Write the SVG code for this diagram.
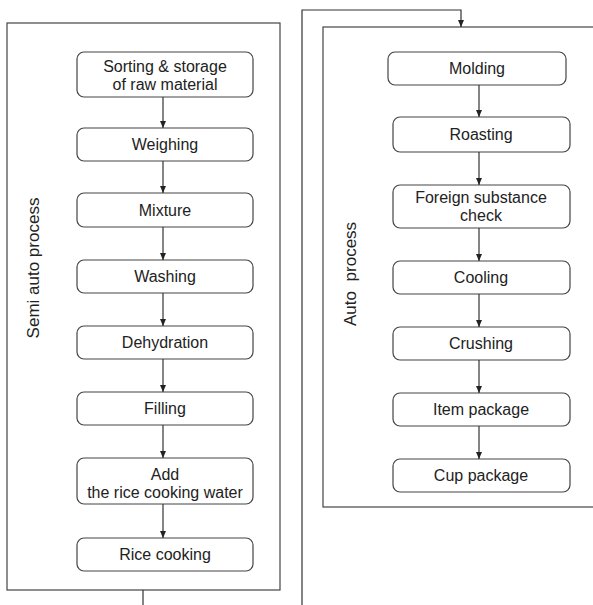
<svg xmlns="http://www.w3.org/2000/svg" width="593" height="605" viewBox="0 0 593 605">
<style>
.frame{fill:none;stroke:#444;stroke-width:1.2}
.box{fill:#fff;stroke:#444;stroke-width:1.2}
.t{font-family:"Liberation Sans",Arial,sans-serif;font-size:16px;fill:#222;text-anchor:middle}
.lbl{font-family:"Liberation Sans",Arial,sans-serif;font-size:17px;fill:#222;text-anchor:middle}
.c{fill:none;stroke:#333;stroke-width:1.2}
</style>
<defs>
<marker id="ah" markerWidth="8" markerHeight="8" refX="7" refY="4" orient="auto" markerUnits="userSpaceOnUse">
<path d="M0,1 L7,4 L0,7 Z" fill="#222"/>
</marker>
</defs>
<rect width="593" height="605" fill="#fff"/>
<g id="semi-auto-panel">
<rect class="frame" x="7" y="23" width="273" height="567"/>
<text class="lbl" transform="translate(39,268) rotate(-90)">Semi auto process</text>
</g>
<g id="auto-panel">
<rect class="frame" x="323" y="27" width="290" height="480"/>
<text class="lbl" style="word-spacing:5px" transform="translate(356,274) rotate(-90)">Auto process</text>
</g>
<g id="n1"><rect class="box" x="77" y="52" width="176" height="45" rx="7"/><text class="t" x="165" y="72">Sorting &amp; storage</text><text class="t" x="165" y="90">of raw material</text></g>
<g id="n2"><rect class="box" x="77" y="128" width="176" height="33" rx="7"/><text class="t" x="165" y="150">Weighing</text></g>
<g id="n3"><rect class="box" x="77" y="193" width="176" height="34" rx="7"/><text class="t" x="165" y="215.5">Mixture</text></g>
<g id="n4"><rect class="box" x="77" y="260" width="176" height="33" rx="7"/><text class="t" x="165" y="282">Washing</text></g>
<g id="n5"><rect class="box" x="77" y="326" width="176" height="33" rx="7"/><text class="t" x="165" y="348">Dehydration</text></g>
<g id="n6"><rect class="box" x="77" y="392" width="176" height="33" rx="7"/><text class="t" x="165" y="414">Filling</text></g>
<g id="n7"><rect class="box" x="77" y="458" width="176" height="46" rx="7"/><text class="t" x="165" y="480">Add</text><text class="t" x="165" y="498">the rice cooking water</text></g>
<g id="n8"><rect class="box" x="77" y="538" width="176" height="33" rx="7"/><text class="t" x="165" y="560">Rice cooking</text></g>
<g id="m1"><rect class="box" x="388" y="52" width="178" height="33" rx="7"/><text class="t" x="477" y="74">Molding</text></g>
<g id="m2"><rect class="box" x="393" y="117" width="177" height="35" rx="7"/><text class="t" x="481" y="140">Roasting</text></g>
<g id="m3"><rect class="box" x="393" y="185" width="177" height="43" rx="7"/><text class="t" x="481" y="203">Foreign substance</text><text class="t" x="481" y="221">check</text></g>
<g id="m4"><rect class="box" x="393" y="261" width="177" height="33" rx="7"/><text class="t" x="481" y="283">Cooling</text></g>
<g id="m5"><rect class="box" x="393" y="327" width="177" height="33" rx="7"/><text class="t" x="481" y="349">Crushing</text></g>
<g id="m6"><rect class="box" x="393" y="393" width="177" height="33" rx="7"/><text class="t" x="481" y="415">Item package</text></g>
<g id="m7"><rect class="box" x="393" y="459" width="177" height="33" rx="7"/><text class="t" x="481" y="481">Cup package</text></g>
<g id="connectors">
<line class="c" x1="163" y1="97" x2="163" y2="128" marker-end="url(#ah)"/>
<line class="c" x1="163" y1="161" x2="163" y2="193" marker-end="url(#ah)"/>
<line class="c" x1="163" y1="227" x2="163" y2="260" marker-end="url(#ah)"/>
<line class="c" x1="163" y1="293" x2="163" y2="326" marker-end="url(#ah)"/>
<line class="c" x1="163" y1="359" x2="163" y2="392" marker-end="url(#ah)"/>
<line class="c" x1="163" y1="425" x2="163" y2="458" marker-end="url(#ah)"/>
<line class="c" x1="163" y1="504" x2="163" y2="538" marker-end="url(#ah)"/>
<line class="c" x1="143" y1="590" x2="143" y2="606"/>
<polyline class="c" points="302,606 302,10 461,10 461,27" marker-end="url(#ah)"/>
<line class="c" x1="479" y1="85" x2="479" y2="117" marker-end="url(#ah)"/>
<line class="c" x1="479" y1="152" x2="479" y2="185" marker-end="url(#ah)"/>
<line class="c" x1="479" y1="228" x2="479" y2="261" marker-end="url(#ah)"/>
<line class="c" x1="479" y1="294" x2="479" y2="327" marker-end="url(#ah)"/>
<line class="c" x1="479" y1="360" x2="479" y2="393" marker-end="url(#ah)"/>
<line class="c" x1="479" y1="426" x2="479" y2="459" marker-end="url(#ah)"/>
</g>
</svg>
